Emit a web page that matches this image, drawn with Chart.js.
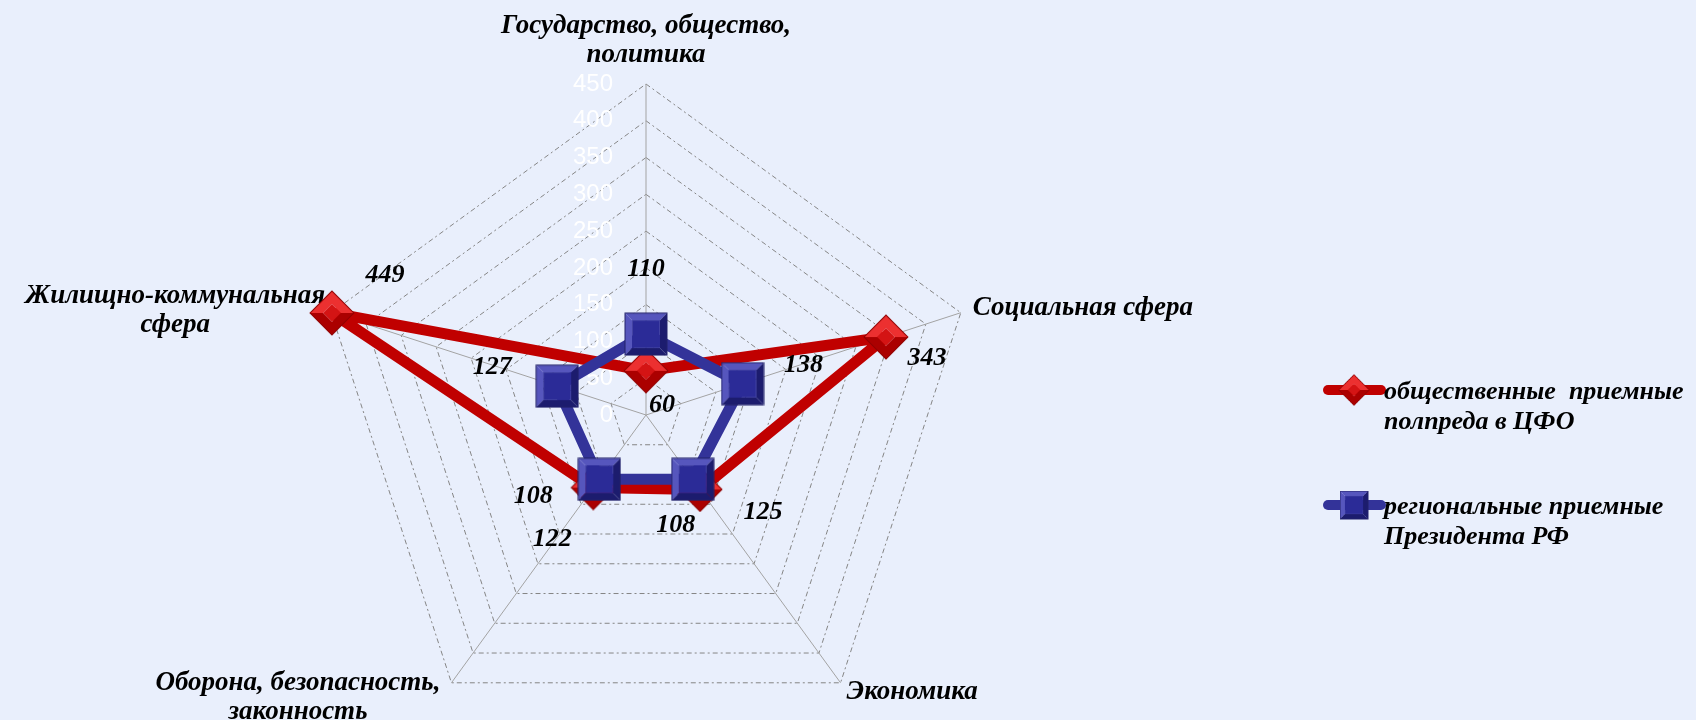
<!DOCTYPE html>
<html lang="ru">
<head>
<meta charset="utf-8">
<title>Обращения по тематике</title>
<script src="https://cdn.jsdelivr.net/npm/chart.js@4.4.1/dist/chart.umd.min.js"></script>
<style>
  html, body { margin: 0; padding: 0; background: #e9effc; }
  #wrap { width: 1696px; height: 720px; }
</style>
</head>
<body>
<div id="wrap"><canvas id="myChart" width="1696" height="720"></canvas></div>
<script>
// темы обращений (оси диаграммы)
const temas = [
  ['Государство, общество,', 'политика'],
  ['Социальная сфера'],
  ['Экономика'],
  ['Оборона, безопасность,', 'законность'],
  ['Жилищно-коммунальная', 'сфера']
];
// общественные приемные полпреда в ЦФО
const polpred = [60, 343, 125, 122, 449];
// региональные приемные Президента РФ
const prezident = [110, 138, 108, 108, 127];
// подписи шкалы
const escala = [0, 50, 100, 150, 200, 250, 300, 350, 400, 450];
const nombres = [
  ['общественные  приемные', 'полпреда в ЦФО'],
  ['региональные приемные', 'Президента РФ']
];

// геометрия диаграммы
const centro = { x: 646, y: 415, radio: 331 };
// размещение названий осей относительно вершин
const posTemas = [
  { align: 'center', dx: 0, dy: -43 },
  { align: 'left', dx: 12, dy: -5 },
  { align: 'left', dx: 6, dy: 9 },
  { align: 'right', dx: -11, dy: 15 },
  { align: 'right', dx: -6, dy: -2 }
];
// смещения подписей значений относительно маркеров
const desplRojo = [[16, 34], [41, 21], [63, 23], [-41, 52], [53, -38]];
const desplAzul = [[0, -65], [61, -18], [-17, 46], [-66, 17], [-65, -19]];

const fuente = '"Liberation Serif", "Times New Roman", serif';

// маркер с фаской (квадрат или ромб)
function bisel(lado, cara, luz, sombra, borde, girar, ancho) {
  const total = girar ? Math.ceil(lado * Math.SQRT2) + 2 : lado + 2;
  const c = document.createElement('canvas');
  c.width = total; c.height = total;
  const g = c.getContext('2d');
  g.translate(total / 2, total / 2);
  if (girar) g.rotate(Math.PI / 4);
  const h = lado / 2, b = lado * ancho;
  const poly = (pts, color) => {
    g.beginPath();
    pts.forEach((p, i) => i ? g.lineTo(p[0], p[1]) : g.moveTo(p[0], p[1]));
    g.closePath(); g.fillStyle = color; g.fill();
  };
  poly([[-h, -h], [h, -h], [h - b, -h + b], [-h + b, -h + b]], luz);
  poly([[-h, -h], [-h + b, -h + b], [-h + b, h - b], [-h, h]], luz);
  poly([[h, -h], [h, h], [h - b, h - b], [h - b, -h + b]], sombra);
  poly([[-h, h], [-h + b, h - b], [h - b, h - b], [h, h]], sombra);
  g.fillStyle = cara;
  g.fillRect(-h + b, -h + b, lado - 2 * b, lado - 2 * b);
  g.strokeStyle = borde; g.lineWidth = 1;
  g.strokeRect(-h, -h, lado, lado);
  return c;
}

const marcaRoja = bisel(31, '#d41414', '#ec3030', '#ab0000', '#900000', true, 0.3);
const marcaAzul = bisel(42, '#2b2b97', '#5656bd', '#1c1c6e', '#22226a', false, 0.17);

// подписи шкалы и названия осей
const pluginEscala = {
  id: 'escala',
  beforeDatasetsDraw(chart) {
    const r = chart.scales.r;
    const ctx = chart.ctx;
    ctx.save();
    ctx.font = '24px "Liberation Sans", Arial, sans-serif';
    ctx.fillStyle = '#ffffff';
    ctx.textAlign = 'right';
    ctx.textBaseline = 'middle';
    escala.forEach(v => {
      const d = r.getDistanceFromCenterForValue(v);
      ctx.fillText(String(v), r.xCenter - 33, r.yCenter - d);
    });

    ctx.font = 'italic bold 27px ' + fuente;
    ctx.fillStyle = '#000';
    ctx.textAlign = 'center';
    const lh = 29;
    temas.forEach((lineas, i) => {
      const p = r.getPointPosition(i, r.drawingArea);
      const cfg = posTemas[i];
      const w = Math.max(...lineas.map(t => ctx.measureText(t).width));
      let cx = p.x + cfg.dx;
      if (cfg.align === 'left') cx += w / 2;
      if (cfg.align === 'right') cx -= w / 2;
      const cy = p.y + cfg.dy;
      lineas.forEach((t, k) => {
        ctx.fillText(t, cx, cy + (k - (lineas.length - 1) / 2) * lh);
      });
    });
    ctx.restore();
  }
};

// подписи значений и легенда
const pluginTextos = {
  id: 'textos',
  afterDatasetsDraw(chart) {
    const ctx = chart.ctx;
    ctx.save();
    ctx.font = 'italic bold 26px ' + fuente;
    ctx.fillStyle = '#000';
    ctx.textAlign = 'center';
    ctx.textBaseline = 'middle';
    [desplRojo, desplAzul].forEach((despl, i) => {
      const meta = chart.getDatasetMeta(i);
      const valores = chart.data.datasets[i].data;
      meta.data.forEach((pt, j) => {
        ctx.fillText(String(valores[j]), pt.x + despl[j][0], pt.y + despl[j][1]);
      });
    });

    // легенда справа
    const filas = [
      { y: 390, color: '#c00000', marca: marcaRoja, w: 32 },
      { y: 505, color: '#333399', marca: marcaAzul, w: 29 }
    ];
    ctx.textAlign = 'left';
    filas.forEach((f, i) => {
      ctx.strokeStyle = f.color;
      ctx.lineWidth = 10;
      ctx.lineCap = 'round';
      ctx.beginPath();
      ctx.moveTo(1328, f.y);
      ctx.lineTo(1381, f.y);
      ctx.stroke();
      ctx.drawImage(f.marca, 1354 - f.w / 2, f.y - f.w / 2, f.w, f.w);
      ctx.fillText(nombres[i][0], 1384, f.y + 2);
      ctx.fillText(nombres[i][1], 1384, f.y + 32);
    });
    ctx.restore();
  }
};

const ctx = document.getElementById('myChart');

const myChart = new Chart(ctx, {
  type: 'radar',
  data: {
    labels: temas.map(t => t.join(' ')),
    datasets: [{
      label: nombres[0].join(' '),
      data: polpred,
      borderColor: '#c00000',
      backgroundColor: 'rgba(0,0,0,0)',
      borderWidth: 11,
      borderJoinStyle: 'round',
      fill: false,
      pointStyle: marcaRoja,
      order: 1
    }, {
      label: nombres[1].join(' '),
      data: prezident,
      borderColor: '#333399',
      backgroundColor: 'rgba(0,0,0,0)',
      borderWidth: 11,
      borderJoinStyle: 'round',
      fill: false,
      pointStyle: marcaAzul,
      order: 0
    }]
  },
  options: {
    responsive: false,
    devicePixelRatio: 1,
    animation: false,
    scales: {
      r: {
        min: 0,
        max: 450,
        ticks: { display: false, stepSize: 50 },
        grid: { color: '#858585', lineWidth: 1 },
        border: { dash: [5, 3, 2, 3] },
        angleLines: { color: '#a3a3a3', lineWidth: 1 },
        pointLabels: { display: false },
        // центр и радиус задаются явно
        beforeFit(scale) {
          scale.setCenterPoint = function () {
            this.xCenter = centro.x;
            this.yCenter = centro.y;
            this.drawingArea = centro.radio;
          };
        }
      }
    },
    plugins: {
      legend: { display: false },
      tooltip: { enabled: false }
    }
  },
  plugins: [pluginEscala, pluginTextos]
});
</script>
</body>
</html>
